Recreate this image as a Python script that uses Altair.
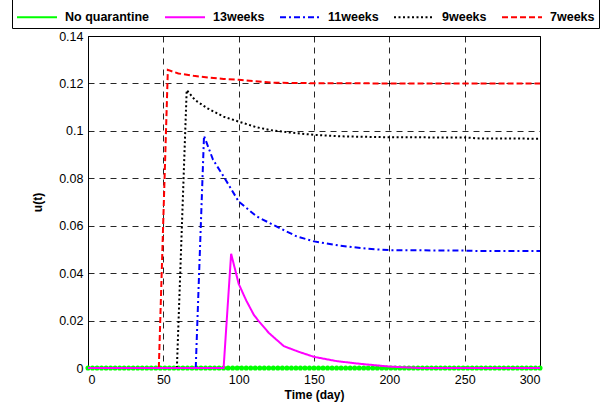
import altair as alt
import pandas as pd

series_names = ["No quarantine", "13weeks", "11weeks", "9weeks", "7weeks"]
series_colors = ["#00ff00", "#ff00ff", "#0000ff", "#000000", "#ff0000"]
series_dash = [[1, 0], [1, 0], [6, 3, 2, 3], [2, 2.5], [6, 3]]

nq_x = list(range(0, 301, 3))
nq_y = [0.0] * len(nq_x)

w13_x = [0, 90, 95, 100, 105, 110, 113, 120, 130, 140, 150, 165, 180, 200, 220, 300]
w13_y = [0, 0, 0.0482, 0.0355, 0.0285, 0.0225, 0.0200, 0.0148, 0.0092, 0.0068, 0.0047,
         0.0029, 0.0018, 0.0006, 0.0, 0.0]

w11_x = [71.5, 77, 83, 90, 100, 112, 125, 138.5, 150, 167, 185, 200, 250, 260, 300]
w11_y = [0, 0.0979, 0.0878, 0.0808, 0.0702, 0.0639, 0.0597, 0.0555, 0.0534, 0.0516,
         0.0503, 0.0497, 0.0495, 0.0493, 0.0493]

w9_x = [59, 65.5, 71, 79, 90, 100, 112, 123, 134, 150, 167, 200, 250, 260, 300]
w9_y = [0, 0.1172, 0.1130, 0.1096, 0.1060, 0.1039, 0.1015, 0.1001, 0.0993, 0.0983,
        0.0977, 0.0973, 0.0972, 0.0968, 0.0967]

w7_x = [47, 53, 60, 70, 80, 90, 100, 110, 123, 150, 200, 250, 300]
w7_y = [0, 0.1257, 0.1242, 0.1232, 0.1225, 0.1219, 0.1215, 0.1210, 0.1203, 0.1201,
        0.1200, 0.1200, 0.1200]

frames = []
for name, xs, ys in [("No quarantine", nq_x, nq_y), ("13weeks", w13_x, w13_y),
                     ("11weeks", w11_x, w11_y), ("9weeks", w9_x, w9_y),
                     ("7weeks", w7_x, w7_y)]:
    frames.append(pd.DataFrame({"t": xs, "u": ys, "series": name}))
df = pd.concat(frames, ignore_index=True)

FONT = "Liberation Sans"

x_enc = alt.X("t:Q", scale=alt.Scale(domain=[0, 300], nice=False),
              axis=alt.Axis(values=[0, 50, 100, 150, 200, 250, 300], title="Time (day)"))
y_enc = alt.Y("u:Q", scale=alt.Scale(domain=[0, 0.14], nice=False),
              axis=alt.Axis(values=[0, 0.02, 0.04, 0.06, 0.08, 0.1, 0.12, 0.14],
                            format=".2~f", title="u(t)"))
color_enc = alt.Color("series:N", scale=alt.Scale(domain=series_names, range=series_colors),
                      legend=alt.Legend(title=None))
dash_enc = alt.StrokeDash("series:N", scale=alt.Scale(domain=series_names, range=series_dash),
                          legend=alt.Legend(title=None))

def line_for(name, clip=True):
    return alt.Chart(df).transform_filter(alt.datum.series == name).mark_line(
        strokeWidth=2, clip=clip
    ).encode(x=x_enc, y=y_enc, color=color_enc, strokeDash=dash_enc, order="t:Q")

green_pts = alt.Chart(df).transform_filter(alt.datum.series == "No quarantine").mark_point(
    filled=True, size=26, color="#00ff00", opacity=1, clip=False
).encode(x=x_enc, y=y_enc)

chart = alt.layer(
    line_for("No quarantine", clip=False), green_pts,
    line_for("7weeks"), line_for("9weeks"), line_for("11weeks"), line_for("13weeks", clip=False)
).properties(
    width=452, height=332,
    autosize=alt.AutoSizeParams(type="none"),
    padding={"left": 88, "top": 36, "right": 64, "bottom": 37},
).configure_view(
    stroke="black", strokeWidth=1
).configure_axis(
    grid=True, gridColor="black", gridDash=[6, 5], gridWidth=1, gridOpacity=0.85,
    domainColor="black", domainWidth=1, ticks=False,
    labelFont=FONT, labelFontSize=12.5, labelColor="black", labelPadding=5,
    titleFont=FONT, titleFontSize=12, titleFontWeight="bold", titleColor="black",
).configure_axisY(
    titlePadding=14
).configure_axisX(
    titlePadding=4
).configure_legend(
    orient="none", legendX=-76, legendY=-44, direction="horizontal",
    strokeColor="black", fillColor="white", padding=4,
    symbolType="stroke", symbolSize=1600, symbolStrokeWidth=2,
    labelFont=FONT, labelFontSize=12.5, labelFontWeight="bold", labelColor="black",
    labelOffset=7, columnPadding=11, columns=5,
)

chart.save("out.html", embed_options={"renderer": "svg", "actions": False})
